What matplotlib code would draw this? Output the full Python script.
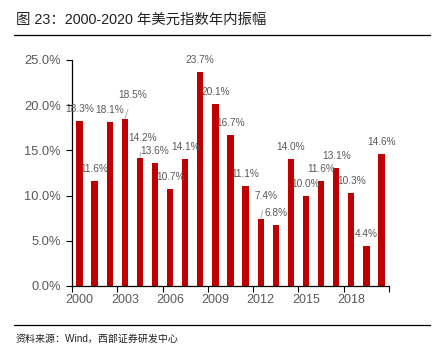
import matplotlib
matplotlib.use('Agg')
from matplotlib import pyplot as plt
from matplotlib.lines import Line2D
import numpy as np

plt.rcParams['font.family'] = ['Liberation Sans', 'Noto Sans CJK SC', 'DejaVu Sans']

# data
years = list(range(2000, 2021))
amplitude = [18.3, 11.6, 18.1, 18.5, 14.2, 13.6, 10.7, 14.1, 23.7, 20.1,
             16.7, 11.1, 7.4, 6.8, 14.0, 10.0, 11.6, 13.1, 10.3, 4.4, 14.6]
year_labels = ['2000', '2003', '2006', '2009', '2012', '2015', '2018']

title = '图 23：2000-2020 年美元指数年内振幅'
source = '资料来源：Wind，西部证券研发中心'

gray = '#595959'
red = '#C00000'

fig = plt.figure(figsize=(4.44, 3.53), dpi=100)
ax = fig.add_axes([72 / 444, 1 - 286 / 353, 317 / 444, 226 / 353])

x = np.arange(len(years))
ax.bar(x, amplitude, width=0.42, color=red, zorder=2)

# labels: (dx, dy) offsets in pixels, a few have leader lines
special = {3: (8, 24), 4: (3, 20), 12: (5, 23)}
for i, v in enumerate(amplitude):
    dx, dy = special.get(i, (0, 12))
    kw = {}
    if i in special:
        kw['arrowprops'] = dict(arrowstyle='-', color='#a6a6a6', lw=0.6,
                                shrinkA=5, shrinkB=0)
    ax.annotate(f'{v:.1f}%', (i, v), xytext=(dx, dy), textcoords='offset pixels',
                ha='center', va='center', fontsize=7.3, color=gray, **kw)

ax.set_xlim(-0.5, len(years) - 0.5)
ax.set_ylim(0, 25)
ax.set_yticks(np.arange(0, 26, 5))
ax.set_yticklabels([f'{t:.1f}%' for t in np.arange(0, 26, 5)])

ax.set_xticks(np.arange(-0.5, len(years), 3))
ax.set_xticklabels([])
ax.set_xticks(np.arange(0, len(years), 3), minor=True)
ax.set_xticklabels(year_labels, minor=True)
ax.tick_params(axis='x', which='major', length=4, width=0.8, color='black', direction='out')
ax.tick_params(axis='x', which='minor', length=0, pad=6, labelsize=9, labelcolor=gray)
ax.tick_params(axis='y', length=4, width=0.8, direction='out', labelsize=9.3,
               labelcolor=gray, pad=4)

for s in ['top', 'right']:
    ax.spines[s].set_visible(False)
for s in ['left', 'bottom']:
    ax.spines[s].set_color('black')
    ax.spines[s].set_linewidth(0.9)

fig.text(16 / 444, 1 - 20 / 353, title, fontsize=10.4, color='#222222', va='center', ha='left')
fig.add_artist(Line2D([14 / 444, 430 / 444], [1 - 35 / 353, 1 - 35 / 353],
                      color='black', lw=0.9))
fig.add_artist(Line2D([14 / 444, 430 / 444], [1 - 325 / 353, 1 - 325 / 353],
                      color='black', lw=0.9))
fig.text(16 / 444, 1 - 339 / 353, source, fontsize=7.2, color='#222222', va='center', ha='left')

fig.savefig('out.png', dpi=100)
